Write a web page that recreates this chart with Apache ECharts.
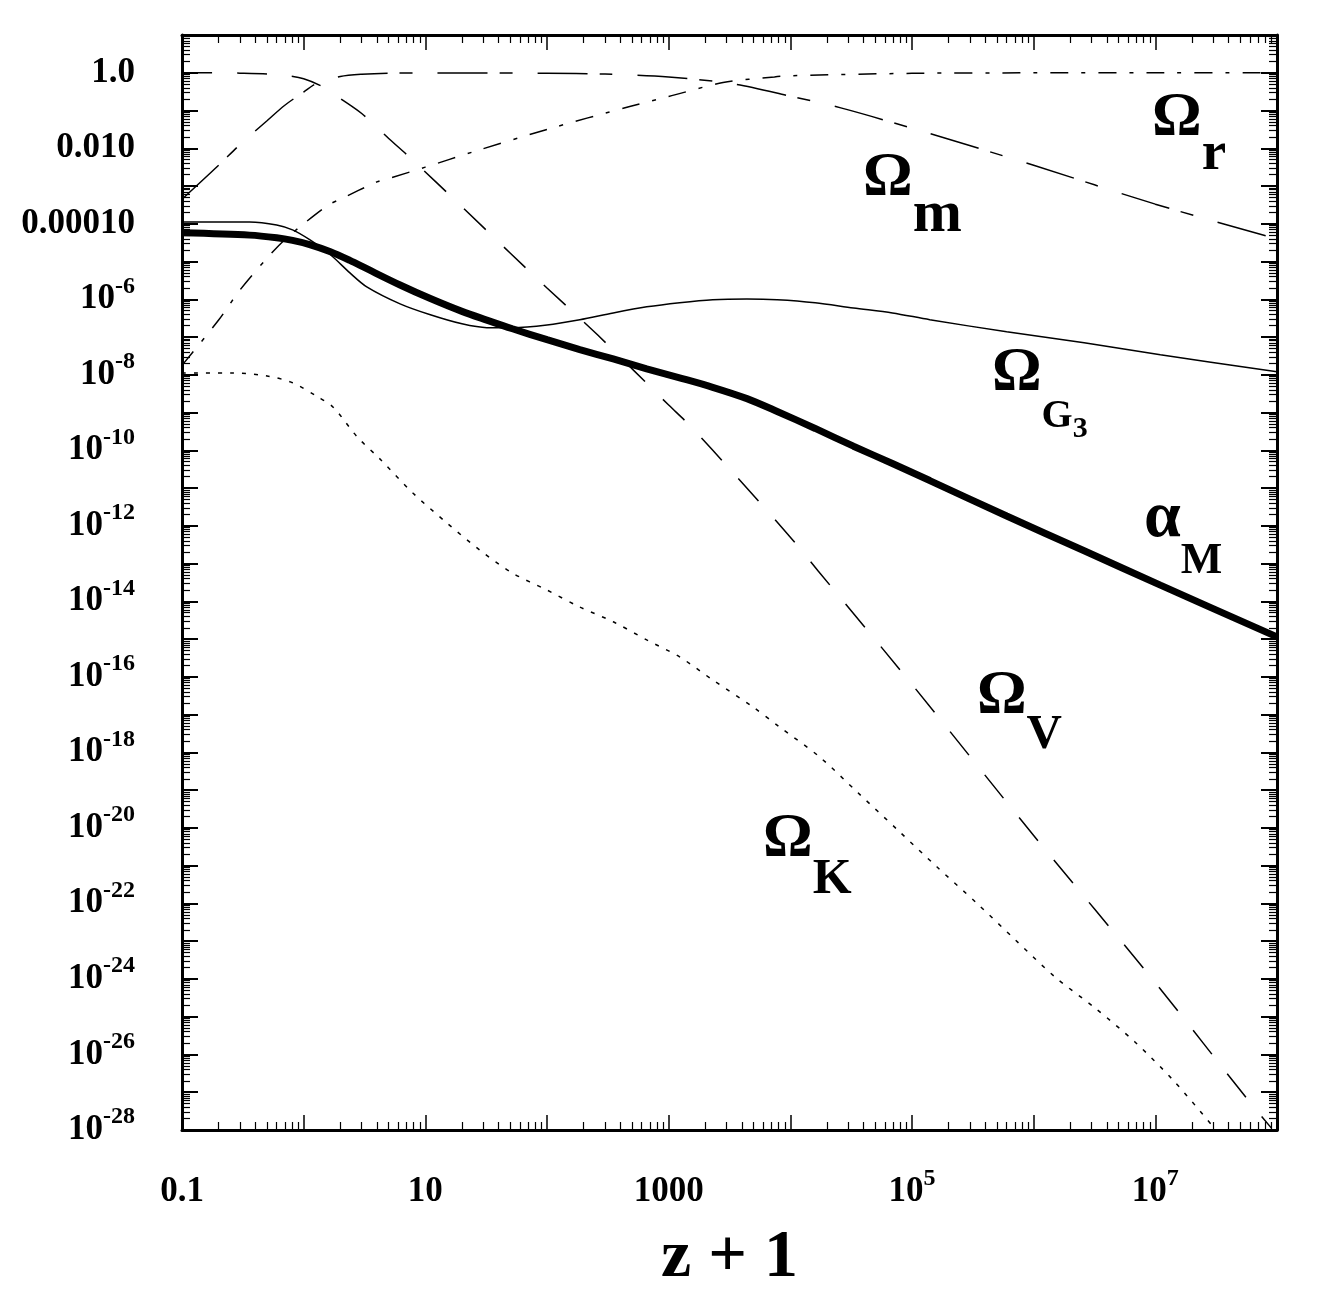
<!DOCTYPE html>
<html>
<head>
<meta charset="utf-8">
<title>density parameters vs z+1</title>
<script src="https://cdn.jsdelivr.net/npm/echarts@6/dist/echarts.min.js"></script>
<style>
    html, body { margin: 0; padding: 0; background: #fff; }
    #graph1 { width: 1319px; height: 1290px; }
</style>
</head>
<body>
<div id="graph1"></div>
<script>
// values, y values kept as log10
var omegaVX = [0.1, 0.2, 0.3, 0.5, 0.7, 1, 1.5, 2, 3, 5, 7.8, 20, 50, 100, 260, 1000, 1500, 3400, 1e4, 1.7e4, 1e5, 1e6, 1e7, 6.1e7, 9e7];
var omegaVLog = [0, -0.003, -0.01, -0.03, -0.07, -0.16, -0.40, -0.68, -1.08, -1.74, -2.30, -3.55, -4.78, -5.70, -6.94, -8.8, -9.35, -10.6, -12.3, -13.2, -16.2, -20.2, -24.1, -27.3, -27.95];

var omegaMX = [0.1, 0.2, 0.3, 0.5, 0.7, 1, 1.3, 2, 3, 5, 10, 100, 300, 1000, 3500, 1e4, 2.6e4, 1e5, 1e6, 1e7, 1e8];
var omegaMLog = [-3.35, -2.45, -1.9, -1.27, -0.86, -0.51, -0.27, -0.1, -0.04, -0.01, -0.005, -0.012, -0.036, -0.11, -0.3, -0.62, -0.93, -1.47, -2.45, -3.48, -4.4];

var omegaRX = [0.1, 0.2, 0.3, 0.5, 0.7, 1, 1.6, 2, 4, 5, 10, 25, 100, 470, 1000, 2800, 7400, 1e4, 1e5, 1e6, 1e7, 1e8];
var omegaRLog = [-7.75, -6.55, -5.75, -4.91, -4.42, -4.0, -3.50, -3.35, -2.89, -2.80, -2.5, -2.09, -1.5, -0.9, -0.63, -0.26, -0.11, -0.08, -0.015, -0.002, 0, 0];

var zGrid = [0.1, 0.36, 0.6, 0.81, 1.12, 1.66, 2.4, 3.3, 6.2, 11, 20, 32, 52, 100, 186, 350, 660, 1230, 2300, 4400, 7800, 1.6e4, 3.3e4, 6.9e4, 1.4e5, 6e5, 2.6e6, 1.1e7, 1e8];
var omegaG3Log = [-3.95, -3.95, -4.03, -4.16, -4.42, -4.82, -5.30, -5.67, -6.12, -6.41, -6.65, -6.75, -6.75, -6.68, -6.54, -6.36, -6.20, -6.09, -6.01, -5.99, -6.01, -6.09, -6.23, -6.36, -6.54, -6.86, -7.15, -7.47, -7.92];
var alphaMLog = [-4.24, -4.30, -4.37, -4.44, -4.55, -4.74, -4.97, -5.19, -5.62, -5.98, -6.32, -6.55, -6.78, -7.07, -7.33, -7.58, -7.84, -8.08, -8.33, -8.63, -8.97, -9.42, -9.89, -10.35, -10.80, -11.74, -12.66, -13.57, -14.94];

var omegaKX = [0.1, 0.26, 0.5, 0.81, 1.3, 1.74, 2.75, 4.3, 7.9, 15, 28, 52, 100, 186, 350, 660, 1230, 2300, 4900, 8100, 1.74e4, 3.6e4, 7.6e4, 1.6e5, 3.4e5, 7.1e5, 1.5e6, 3.2e6, 6.8e6, 1.4e7, 3e7];
var omegaKLog = [-7.95, -7.95, -8.03, -8.21, -8.58, -8.85, -9.64, -10.25, -11.13, -11.92, -12.64, -13.25, -13.70, -14.15, -14.54, -15.02, -15.47, -16.08, -16.79, -17.32, -18.12, -19.07, -20.05, -21.03, -21.99, -22.97, -23.95, -24.77, -25.67, -26.68, -27.92];

// axis ticks and labels
var xDecades = [0.1, 1, 10, 100, 1000, 1e4, 1e5, 1e6, 1e7, 1e8];
var xLabelValues = [0.1, 10, 1000, 1e5, 1e7];
var yDecadeExp = [-28, -27, -26, -25, -24, -23, -22, -21, -20, -19, -18, -17, -16, -15, -14, -13, -12, -11, -10, -9, -8, -7, -6, -5, -4, -3, -2, -1, 0, 1];
var yLabelExp = [0, -2, -4, -6, -8, -10, -12, -14, -16, -18, -20, -22, -24, -26, -28];
var yLabelFixed = { '0': '1.0', '-2': '0.010', '-4': '0.00010' };

// curve labels: anchor (top-left of the text block) in data coords
var curveLabels = [
    { x: 9.4e6, y: 0.43, text: '{o|Ω}{r|r}' },
    { x: 3.96e4, y: 0.011, text: '{o|Ω}{m|m}' },
    { x: 4.54e5, y: 7.2e-8, text: '{o|Ω}{g|G}{g3|3}' },
    { x: 8.07e6, y: 1.15e-11, text: '{a|α}{mm|M}' },
    { x: 3.42e5, y: 2.1e-16, text: '{o|Ω}{v|V}' },
    { x: 5960, y: 3.4e-20, text: '{o|Ω}{k|K}' }
];

var FONT = 'Liberation Serif';

function toPairs(xs, logs) {
    var out = [];
    for (var i = 0; i < xs.length; i++) {
        out.push([xs[i], Math.pow(10, logs[i])]);
    }
    return out;
}

function minorValues(lo, hi) {
    // 2..9 times each power of ten between lo and hi (exponents)
    var out = [];
    for (var e = lo; e < hi; e++) {
        for (var k = 2; k <= 9; k++) {
            out.push(k * Math.pow(10, e));
        }
    }
    return out;
}

function expValue(e) {
    return Number('1e' + e);
}

var yDecades = yDecadeExp.map(expValue);
var yLabelValues = yLabelExp.map(expValue);

function xLabelFormatter(v) {
    var e = Math.round(Math.log10(v));
    if (e <= 3) {
        return '{b|' + (e < 0 ? '0.1' : String(Math.pow(10, e))) + '}';
    }
    return '{b|10}{s|' + e + '}';
}

function yLabelFormatter(v) {
    var e = Math.round(Math.log10(v));
    if (yLabelFixed[String(e)]) {
        return '{b|' + yLabelFixed[String(e)] + '}';
    }
    return '{b|10}{s|' + e + '}';
}

var labelRich = {
    b: { fontFamily: FONT, fontWeight: 'bold', fontSize: 35, lineHeight: 50, color: '#000' },
    s: { fontFamily: FONT, fontWeight: 'bold', fontSize: 24, lineHeight: 26, verticalAlign: 'top', color: '#000' }
};

// sub: text sits "top" px below the top of the label block
function sub(size, top) {
    return { fontFamily: FONT, fontWeight: 'bold', fontSize: size, verticalAlign: 'top', padding: [top, 0, 0, 0], color: '#000' };
}

function tickAxis(pos, ticks, len, width, withLine) {
    return {
        type: 'log',
        logBase: 10,
        position: pos,
        axisLine: { show: withLine, onZero: false, lineStyle: { color: '#000', width: 3 } },
        axisTick: { show: true, inside: true, length: len, customValues: ticks, lineStyle: { color: '#000', width: width } },
        axisLabel: { show: false },
        splitLine: { show: false },
        minorTick: { show: false },
        minorSplitLine: { show: false }
    };
}

function showGraph() {
    var chart = echarts.init(document.getElementById('graph1'), null, { renderer: 'canvas' });

    var xMinor = minorValues(-1, 8);
    var yMinor = minorValues(-28, 1);

    var xAxes = [
        tickAxis('bottom', xDecades, 15, 1.5, true),
        tickAxis('bottom', xMinor, 8, 1.2, false),
        tickAxis('top', xDecades, 15, 1.5, true),
        tickAxis('top', xMinor, 8, 1.2, false)
    ];
    var yAxes = [
        tickAxis('left', yDecades, 16, 2, true),
        tickAxis('left', yMinor, 8, 1.2, false),
        tickAxis('right', yDecades, 16, 2, true),
        tickAxis('right', yMinor, 8, 1.2, false)
    ];
    xAxes.forEach(function (a) { a.min = 0.1; a.max = 1e8; });
    yAxes.forEach(function (a) { a.min = 1e-28; a.max = 10; });

    xAxes[0].axisLabel = {
        show: true, margin: 37, customValues: xLabelValues,
        formatter: xLabelFormatter, rich: labelRich
    };
    xAxes[0].name = 'z + 1';
    xAxes[0].nameLocation = 'middle';
    xAxes[0].nameGap = 94;
    xAxes[0].nameTextStyle = { fontFamily: FONT, fontWeight: 'bold', fontSize: 68, color: '#000' };

    yAxes[0].axisLabel = {
        show: true, margin: 47, customValues: yLabelValues,
        formatter: yLabelFormatter, rich: labelRich
    };

    var base = { type: 'line', xAxisIndex: 0, yAxisIndex: 0, showSymbol: false, symbol: 'none', smooth: 0.3, silent: true };
    function line(name, data, style) {
        return Object.assign({}, base, { name: name, data: data, lineStyle: Object.assign({ color: '#000', cap: 'butt' }, style) });
    }

    var labelData = curveLabels.map(function (c) {
        return { value: [c.x, c.y], label: { formatter: c.text } };
    });

    var option = {
        backgroundColor: '#fff',
        animation: false,
        grid: { left: 182, right: 42, top: 35, bottom: 160, containLabel: false, outerBoundsMode: 'none' },
        xAxis: xAxes,
        yAxis: yAxes,
        series: [
            line('Ω_V', toPairs(omegaVX, omegaVLog), { width: 1.5, type: [30, 25] }),
            line('Ω_m', toPairs(omegaMX, omegaMLog), { width: 1.5, type: [50, 12, 13, 25] }),
            line('Ω_r', toPairs(omegaRX, omegaRLog), { width: 1.5, type: [18, 13, 4, 13] }),
            line('Ω_K', toPairs(omegaKX, omegaKLog), { width: 1.5, type: [4, 8] }),
            line('Ω_G3', toPairs(zGrid, omegaG3Log), { width: 1.5, type: 'solid' }),
            line('α_M', toPairs(zGrid, alphaMLog), { width: 7, type: 'solid' }),
            {
                type: 'scatter',
                xAxisIndex: 0,
                yAxisIndex: 0,
                symbolSize: 0,
                silent: true,
                itemStyle: { opacity: 1 },
                data: labelData,
                label: {
                    show: true,
                    position: [0, 0],
                    align: 'left',
                    verticalAlign: 'top',
                    color: '#000',
                    opacity: 1,
                    rich: {
                        o: { fontFamily: FONT, fontWeight: 'bold', fontSize: 62, verticalAlign: 'top', color: '#000' },
                        a: { fontFamily: FONT, fontWeight: 'bold', fontSize: 66, verticalAlign: 'top', color: '#000' },
                        r: sub(55, 41),
                        m: sub(59, 40),
                        g: sub(40, 54),
                        g3: sub(30, 72),
                        mm: sub(44, 54),
                        v: sub(49, 46),
                        k: sub(50, 47)
                    }
                }
            }
        ]
    };
    chart.setOption(option);
}

showGraph();
</script>
</body>
</html>
